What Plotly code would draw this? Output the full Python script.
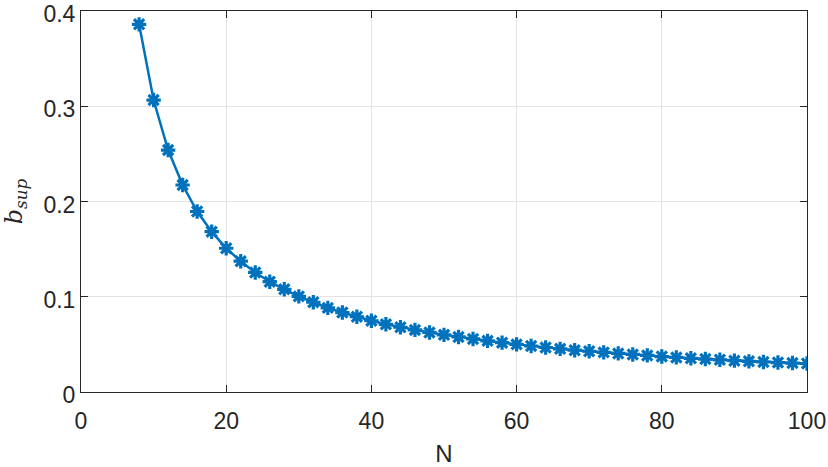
import plotly.graph_objects as go

N = list(range(8, 101, 2))
b_sup = [0.386, 0.3065, 0.254, 0.2173, 0.1895, 0.1683, 0.1509, 0.1373, 0.1255, 0.1158,
         0.1078, 0.1004, 0.0942, 0.0883, 0.0834, 0.0790, 0.0748, 0.0711, 0.0680, 0.0652,
         0.0625, 0.0600, 0.0578, 0.0557, 0.0537, 0.0518, 0.0500, 0.0483, 0.0467, 0.0453,
         0.0439, 0.0428, 0.0416, 0.0405, 0.0394, 0.0384, 0.0372, 0.0363, 0.0354, 0.0346,
         0.0338, 0.0329, 0.0322, 0.0315, 0.0309, 0.0304, 0.0299]

x_ticks = [0, 20, 40, 60, 80, 100]
y_ticks = [0, 0.1, 0.2, 0.3, 0.4]
y_tick_text = ["0", "0.1", "0.2", "0.3", "0.4"]

color = "#0072BD"
fig = go.Figure()
fig.add_trace(go.Scatter(
    x=N, y=b_sup, mode="lines+markers",
    line=dict(color=color, width=2.5),
    marker=dict(symbol="asterisk-open", size=12, color=color,
                line=dict(color=color, width=3.2)),
    showlegend=False,
))

axis_common = dict(
    showline=True, linecolor="#262626", linewidth=1, mirror="ticks",
    ticks="inside", ticklen=7, tickcolor="#262626",
    showgrid=True, gridcolor="#E3E3E3", gridwidth=1,
    zeroline=False, ticklabeloverflow="allow",
    tickfont=dict(family="Liberation Sans, Arial, sans-serif", size=23, color="#262626"),
)

fig.update_xaxes(range=[0, 100.00001], tickvals=x_ticks, ticklabelstandoff=8,
                 title=dict(text="N", font=dict(family="Liberation Sans, Arial, sans-serif",
                                                 size=24, color="#262626"), standoff=16),
                 automargin=False,
                 **axis_common)
fig.update_yaxes(range=[0, 0.4000001], tickvals=y_ticks, ticktext=y_tick_text,
                 ticklabelshift=3,
                 title=dict(text="<i>b</i><sub><i>sup</i></sub>",
                            font=dict(family="DejaVu Serif, Liberation Serif, serif",
                                      size=24, color="#262626"), standoff=20),
                 automargin=False,
                 **axis_common)

fig.update_layout(
    width=828, height=467,
    margin=dict(l=81, r=21, t=11, b=75),
    paper_bgcolor="white", plot_bgcolor="white",
)

fig.write_html("out.html")
